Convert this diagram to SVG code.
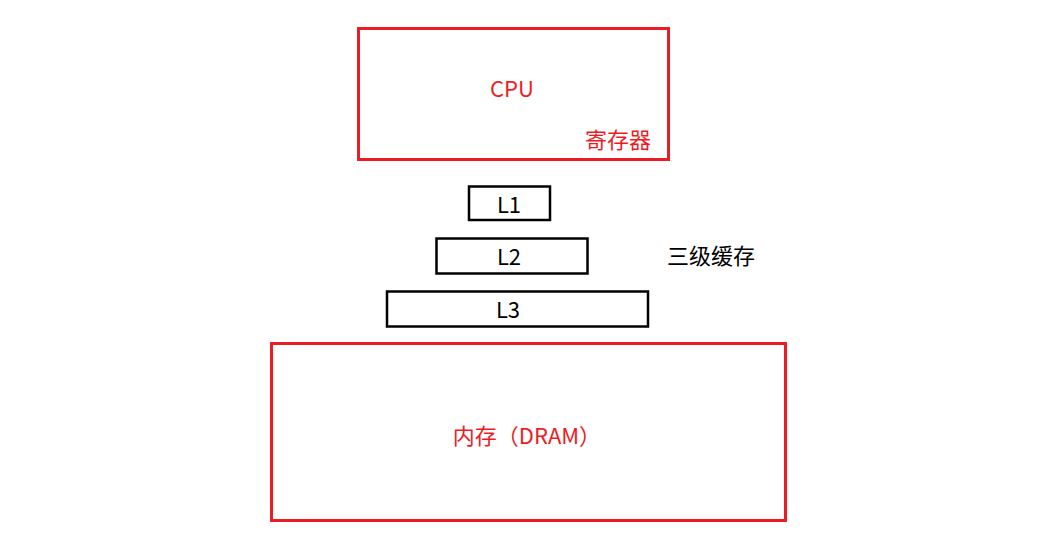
<svg xmlns="http://www.w3.org/2000/svg" width="1055" height="541" viewBox="0 0 1055 541">
<style>
.red{fill:none;stroke:#ED1C24;stroke-width:3}
.blk{fill:none;stroke:#000;stroke-width:2.5}
text{font-family:"Noto Sans CJK SC","Noto Sans",sans-serif;font-size:22px;dominant-baseline:central}
.rt{fill:#ED1C24}
.bt{fill:#000}
</style>
<rect width="1055" height="541" fill="#fff"/>
<g id="cpu">
<rect class="red" x="358.5" y="28.5" width="310" height="131"/>
<text class="rt" x="512" y="87" text-anchor="middle">CPU</text>
<text class="rt" x="618" y="138" text-anchor="middle">寄存器</text>
</g>
<g id="l1">
<rect class="blk" x="469" y="186.5" width="81" height="33.5"/>
<text class="bt" x="509" y="203" text-anchor="middle">L1</text>
</g>
<g id="l2">
<rect class="blk" x="436.5" y="238.5" width="151" height="35"/>
<text class="bt" x="509" y="255" text-anchor="middle">L2</text>
</g>
<g id="l3">
<rect class="blk" x="387" y="291.5" width="261" height="35"/>
<text class="bt" x="508" y="308" text-anchor="middle">L3</text>
</g>
<g id="cache-label">
<text class="bt" x="711" y="254" text-anchor="middle">三级缓存</text>
</g>
<g id="dram">
<rect class="red" x="271.5" y="343.5" width="514" height="177"/>
<text class="rt" x="527" y="434" text-anchor="middle">内存（DRAM）</text>
</g>
<g id="connectors"></g>
</svg>
